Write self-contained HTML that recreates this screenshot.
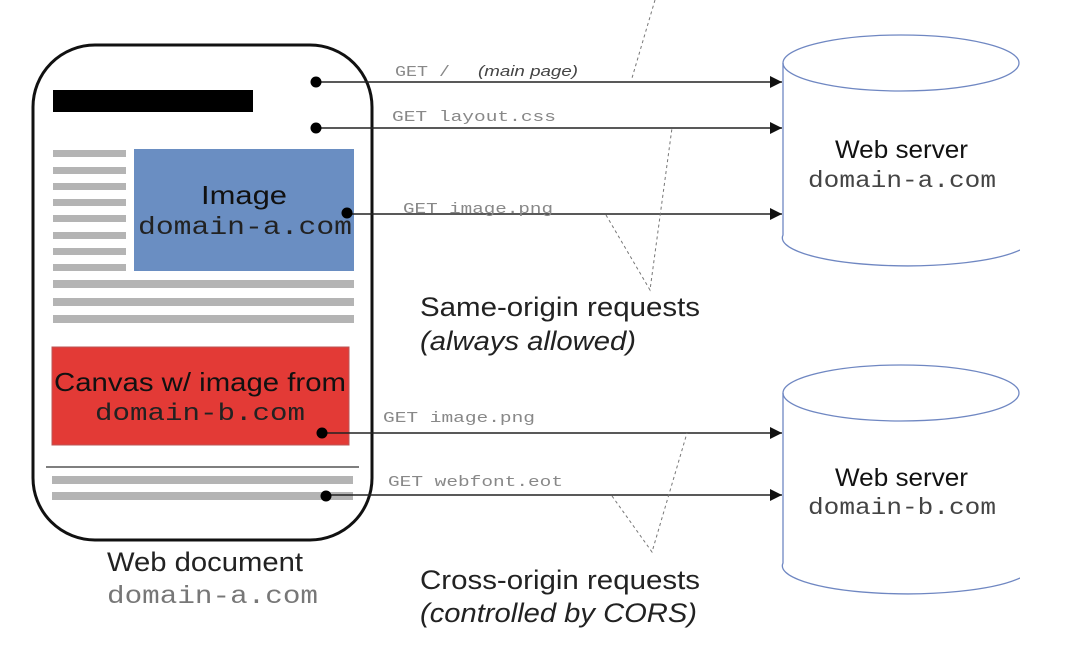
<!DOCTYPE html>
<html><head><meta charset="utf-8"><style>body{margin:0;background:#fff}svg{display:block}</style></head>
<body>
<svg width="1070" height="650" viewBox="0 0 1070 650" xmlns="http://www.w3.org/2000/svg">
<defs>
<marker id="a" viewBox="0 0 10 10" refX="10" refY="5" markerWidth="16" markerHeight="12" markerUnits="userSpaceOnUse" orient="auto"><path d="M0,0 L10,5 L0,10z" fill="#111"/></marker></defs>
<rect x="33" y="45" width="339" height="495" rx="62" fill="#fff" stroke="#111" stroke-width="3"/>
<rect x="53" y="90" width="200" height="22" fill="#000"/>
<g fill="#b4b4b4">
<rect x="53" y="150" width="73" height="7"/><rect x="53" y="167" width="73" height="7"/><rect x="53" y="183" width="73" height="7"/><rect x="53" y="199" width="73" height="7"/><rect x="53" y="215" width="73" height="7"/><rect x="53" y="232" width="73" height="7"/><rect x="53" y="248" width="73" height="7"/><rect x="53" y="264" width="73" height="7"/>
<rect x="53" y="280" width="301" height="8"/><rect x="53" y="298" width="301" height="8"/><rect x="53" y="315" width="301" height="8"/>
<rect x="52" y="476" width="301" height="8"/><rect x="52" y="492" width="301" height="8"/>
</g>
<rect x="134" y="149" width="220" height="122" fill="#6a8ec2"/>
<text x="244" y="204" font-family="Liberation Sans" font-size="26" text-anchor="middle" fill="#111" textLength="86" lengthAdjust="spacingAndGlyphs">Image</text>
<text x="245" y="234" font-family="Liberation Mono" font-size="25" text-anchor="middle" fill="#222" textLength="214" lengthAdjust="spacingAndGlyphs">domain-a.com</text>
<rect x="52" y="347" width="297" height="98" fill="#e33a36" stroke="#b55" stroke-width="1"/>
<text x="200" y="391" font-family="Liberation Sans" font-size="26" text-anchor="middle" fill="#111" textLength="292" lengthAdjust="spacingAndGlyphs">Canvas w/ image from</text>
<text x="200" y="420" font-family="Liberation Mono" font-size="24" text-anchor="middle" fill="#222" textLength="210" lengthAdjust="spacingAndGlyphs">domain-b.com</text>
<line x1="46" y1="467" x2="359" y2="467" stroke="#555" stroke-width="1.5"/>
<g stroke="#222" stroke-width="1.6" marker-end="url(#a)">
<line x1="316" y1="82" x2="782" y2="82"/><line x1="316" y1="128" x2="782" y2="128"/><line x1="347" y1="214" x2="782" y2="214"/><line x1="322" y1="433" x2="782" y2="433"/><line x1="326" y1="495" x2="782" y2="495"/>
</g>
<g fill="#000"><circle cx="316" cy="82" r="5.5"/><circle cx="316" cy="128" r="5.5"/><circle cx="347" cy="213" r="5.5"/><circle cx="322" cy="433" r="5.5"/><circle cx="326" cy="496" r="5.5"/></g>
<g font-family="Liberation Mono" font-size="15" fill="#888" lengthAdjust="spacingAndGlyphs">
<text x="395" y="76" textLength="55" lengthAdjust="spacingAndGlyphs">GET /</text>
<text x="392" y="121" textLength="164" lengthAdjust="spacingAndGlyphs">GET layout.css</text>
<text x="403" y="213" textLength="150" lengthAdjust="spacingAndGlyphs">GET image.png</text>
<text x="383" y="422" textLength="152" lengthAdjust="spacingAndGlyphs">GET image.png</text>
<text x="388" y="486" textLength="175" lengthAdjust="spacingAndGlyphs">GET webfont.eot</text></g>
<text x="478" y="76" font-family="Liberation Sans" font-style="italic" font-size="15" fill="#444" textLength="100" lengthAdjust="spacingAndGlyphs">(main page)</text>
<g stroke="#777" stroke-width="1" stroke-dasharray="3,3" fill="none">
<path d="M655,0 L632,78"/><path d="M606,215 L650,290 L672,128"/><path d="M612,496 L652,552 L687,433"/></g>
<g fill="none" stroke="#6f87c2" stroke-width="1.3">
<path d="M783,63 L783,235 A125,28 0 0 0 1020,250"/><ellipse cx="901" cy="63" rx="118" ry="28"/>
<path d="M783,393 L783,563 A125,28 0 0 0 1020,578"/><ellipse cx="901" cy="393" rx="118" ry="28"/>
</g>
<rect x="1020" y="0" width="50" height="650" fill="#fff"/>
<g font-family="Liberation Sans" font-size="25" fill="#111"><text x="835" y="158" textLength="133" lengthAdjust="spacingAndGlyphs">Web server</text><text x="835" y="486" textLength="133" lengthAdjust="spacingAndGlyphs">Web server</text></g>
<g font-family="Liberation Mono" font-size="23" fill="#444"><text x="808" y="187" textLength="188" lengthAdjust="spacingAndGlyphs">domain-a.com</text><text x="808" y="514" textLength="188" lengthAdjust="spacingAndGlyphs">domain-b.com</text></g>
<g font-family="Liberation Sans" font-size="27" fill="#222">
<text x="420" y="316" textLength="280" lengthAdjust="spacingAndGlyphs">Same-origin requests</text><text x="420" y="350" font-style="italic" textLength="216" lengthAdjust="spacingAndGlyphs">(always allowed)</text>
<text x="420" y="589" textLength="280" lengthAdjust="spacingAndGlyphs">Cross-origin requests</text><text x="420" y="622" font-style="italic" textLength="277" lengthAdjust="spacingAndGlyphs">(controlled by CORS)</text>
<text x="107" y="571" textLength="196" lengthAdjust="spacingAndGlyphs">Web document</text></g>
<text x="107" y="603" font-family="Liberation Mono" font-size="25" fill="#777" textLength="211" lengthAdjust="spacingAndGlyphs">domain-a.com</text>
</svg>
</body></html>
